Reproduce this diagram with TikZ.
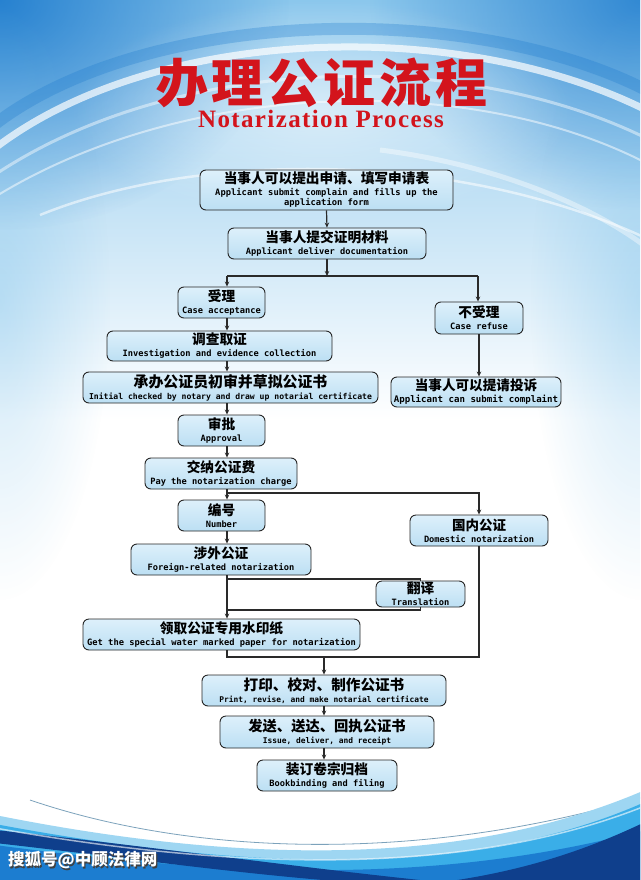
\documentclass[tikz,border=0pt]{standalone}
\usepackage{fontspec}
\usetikzlibrary{arrows.meta,calc,fadings}
\tikzfading[name=softfade, inner color=transparent!0, outer color=transparent!100]
\newfontfamily\cjk{Noto Sans CJK SC}
\newfontfamily\monof{DejaVu Sans Mono}
\newfontfamily\serift{Liberation Serif}
\definecolor{bxtop}{HTML}{DDF0FB}
\definecolor{bxbot}{HTML}{BCDFF3}
\definecolor{lnc}{HTML}{2A2A2A}
\definecolor{ttred}{HTML}{D3141C}
\definecolor{bgTop}{HTML}{6AB7E7}
\definecolor{bgMid}{HTML}{E2F1FA}
\definecolor{bgC}{HTML}{6FBBE8}
\definecolor{bgD}{HTML}{3A9BDC}
\definecolor{bgE}{HTML}{1C7ACD}
\definecolor{wvcyan}{HTML}{3AAEE8}
\definecolor{wvblue}{HTML}{1C7DD0}
\definecolor{wvnavy}{HTML}{0F3F8C}
\definecolor{wvlight}{HTML}{9ED6F2}
\newcommand{\boxtxt}[4]{{\cjk\bfseries\fontsize{#1}{14}\selectfont #3}\\{\monof\bfseries\fontsize{#2}{10}\selectfont #4}}
\newcommand{\wmtext}{搜狐号@中顾法律网}
\tikzset{
  pbox/.style={draw=black!85, line width=0.9pt, rounded corners=6pt, top color=bxtop, bottom color=bxbot, align=center, inner sep=1pt, font=\fontsize{9}{12}\selectfont, minimum height=31pt},
  arr/.style={draw=lnc, line width=1.2pt, -{Stealth[length=5pt,width=4.5pt]}},
  ln/.style={draw=lnc, line width=1.2pt},
}
\begin{document}
\begin{tikzpicture}[x=1pt,y=-1pt]
\useasboundingbox (0,0) rectangle (640,880);
% ---------- background ----------
\begin{scope}
\clip (0,0) rectangle (640,880);
\fill[white] (0,0) rectangle (640,880);
\shade[top color=bgTop, middle color=bgMid, bottom color=white] (0,-120) rectangle (640,420);
\fill[bgE, path fading=softfade, opacity=0.9] (0,0) ellipse (290 and 230);
\fill[bgE, path fading=softfade, opacity=0.8] (640,0) ellipse (270 and 210);
\fill[bgC, path fading=softfade, opacity=0.35] (0,300) ellipse (110 and 300);
\fill[bgC, path fading=softfade, opacity=0.35] (640,300) ellipse (110 and 300);
\fill[white, path fading=softfade, opacity=0.55] (322,110) ellipse (250 and 110);
\draw[bgE, opacity=0.30, line width=12pt] (-10,128) .. controls (140,8) and (470,-2) .. (650,92);
\draw[white, opacity=0.7, line width=7pt] (-10,152) .. controls (150,25) and (460,15) .. (650,112);
\draw[white, opacity=0.45, line width=3pt] (-10,178) .. controls (170,55) and (460,45) .. (650,140);
\draw[white, opacity=0.5, line width=2pt] (-10,200) .. controls (180,80) and (470,70) .. (650,165);
\draw[white, opacity=0.55, line width=2.5pt] (40,215) .. controls (200,150) and (460,150) .. (650,240);
\draw[white, opacity=0.4, line width=5pt] (380,150) .. controls (500,165) and (600,210) .. (650,250);
% bottom waves
\draw[black!35!bgD, opacity=0.6, line width=0.8pt] (30,800) .. controls (200,858) and (430,862) .. (650,795);
\fill[wvlight] (-5,815) .. controls (230,862) and (460,870) .. (645,790) -- (645,885) -- (-5,885) -- cycle;
\fill[wvcyan] (-5,824) .. controls (240,870) and (470,880) .. (645,802) -- (645,885) -- (-5,885) -- cycle;
\fill[wvblue] (-5,845) .. controls (200,872) and (420,890) .. (645,830) -- (645,885) -- (-5,885) -- cycle;
\fill[wvnavy] (-5,830) .. controls (150,846) and (330,872) .. (470,885) -- (400,885) .. controls (280,880) and (130,858) .. (-5,843) -- cycle;
\fill[wvnavy] (645,822) .. controls (570,858) and (500,876) .. (420,885) -- (645,885) -- cycle;
\draw[white, opacity=0.6, line width=1.5pt] (-5,828) .. controls (220,868) and (460,880) .. (645,806);
\end{scope}
% ---------- title ----------
\node[text=ttred] (title) at (322,83) {\cjk\bfseries\fontsize{52}{52}\selectfont 办\hspace{4pt}理\hspace{4pt}公\hspace{4pt}证\hspace{4pt}流\hspace{4pt}程};
\node[text=ttred] (subtitle) at (321,119) {\serift\bfseries\fontsize{25}{25}\selectfont\addfontfeature{LetterSpace=5.5}Notarization Process};
% ---------- boxes ----------
\node[pbox, minimum width=253pt, minimum height=40pt] (n1) at (326.5,190) {{\cjk\bfseries\fontsize{13.7}{14}\selectfont 当事人可以提出申请、填写申请表}\\{\monof\bfseries\fontsize{8.8}{10}\selectfont Applicant submit complain and fills up the}\\[-2pt]{\monof\bfseries\fontsize{8.8}{10}\selectfont application form}};
\node[pbox, minimum width=198pt] (n2) at (327,243.5) {\boxtxt{13.7}{8.7}{当事人提交证明材料}{Applicant deliver documentation}};
\node[pbox, minimum width=87pt] (acc) at (221.5,302.5) {\boxtxt{13.7}{8.7}{受理}{Case acceptance}};
\node[pbox, minimum width=88pt, minimum height=32pt] (ref) at (479,318) {\boxtxt{13.7}{8.7}{不受理}{Case refuse}};
\node[pbox, minimum width=225pt, minimum height=30pt] (inv) at (219.5,346) {\boxtxt{13.7}{8.7}{调查取证}{Investigation and evidence collection}};
\node[pbox, minimum width=295pt] (init) at (230.5,387.5) {\boxtxt{14.9}{8.1}{承办公证员初审并草拟公证书}{Initial checked by notary and draw up notarial certificate}};
\node[pbox, minimum width=170pt, minimum height=30pt] (comp) at (476,392) {\boxtxt{13.6}{9.1}{当事人可以提请投诉}{Applicant can submit complaint}};
\node[pbox, minimum width=87pt] (appr) at (221.5,430.5) {\boxtxt{13.7}{8.7}{审批}{Approval}};
\node[pbox, minimum width=152pt] (pay) at (221,473.5) {\boxtxt{13.7}{8.7}{交纳公证费}{Pay the notarization charge}};
\node[pbox, minimum width=87pt] (num) at (221.5,515.5) {\boxtxt{13.7}{8.7}{编号}{Number}};
\node[pbox, minimum width=138pt] (dom) at (479,530.5) {\boxtxt{13.5}{8.7}{国内公证}{Domestic notarization}};
\node[pbox, minimum width=180pt] (frn) at (221,559.5) {\boxtxt{13.7}{8.7}{涉外公证}{Foreign-related notarization}};
\node[pbox, minimum width=89pt, minimum height=26pt] (tr) at (420.5,594) {\boxtxt{13.7}{8.7}{翻译}{Translation}};
\node[pbox, minimum width=277pt] (get) at (221.5,634.5) {\boxtxt{13.7}{8.75}{领取公证专用水印纸}{Get the special water marked paper for notarization}};
\node[pbox, minimum width=244pt] (print) at (324,690.5) {\boxtxt{14.6}{7.9}{打印、校对、制作公证书}{Print, revise, and make notarial certificate}};
\node[pbox, minimum width=214pt, minimum height=32pt] (send) at (327,732) {\boxtxt{14.3}{7.9}{发送、送达、回执公证书}{Issue, deliver, and receipt}};
\node[pbox, minimum width=140pt] (bind) at (327,775.5) {\boxtxt{13.7}{8.7}{装订卷宗归档}{Bookbinding and filing}};
% ---------- connectors ----------
\coordinate (L) at (227,0);
\coordinate (M) at (324,0);
\coordinate (s1) at (327,276);
\coordinate (s1l) at (227,276);
\coordinate (s1r) at (478,276);
\coordinate (s2) at (227,493);
\coordinate (t1) at (227,579);
\coordinate (t2) at (227,610);
\coordinate (b1) at (227,657);
\draw[arr] (n1.south) -- (n2.north);
\draw[arr] (n2.south) -- (s1);
\draw[ln] (s1l) -- (s1r);
\draw[arr] (s1l) -- (acc.north -| L);
\draw[arr] (s1r) -- (s1r |- ref.north);
\draw[arr] (ref.south) -- (ref.south |- comp.north);
\draw[arr] (acc.south -| L) -- (inv.north -| L);
\draw[arr] (inv.south -| L) -- (init.north -| L);
\draw[arr] (init.south -| L) -- (appr.north -| L);
\draw[arr] (appr.south -| L) -- (pay.north -| L);
\draw[arr] (pay.south -| L) -- (num.north -| L);
\draw[arr] (s2) -| (dom.north);
\draw[arr] (num.south -| L) -- (frn.north -| L);
\draw[arr] (frn.south -| L) -- (get.north -| L);
\draw[ln] (t1) -| (tr.north);
\draw[ln] (tr.south) |- (t2);
\draw[ln] (get.south -| L) -- (b1) -- (b1 -| dom.south) -- (dom.south);
\draw[arr] (b1 -| M) -- (print.north -| M);
\draw[arr] (print.south -| M) -- (send.north -| M);
\draw[arr] (send.south -| M) -- (bind.north -| M);
% ---------- watermark ----------
\node[text=white, anchor=west, inner sep=0pt] (wm) at (8,861) {\cjk\bfseries\fontsize{16.5}{17}\selectfont\makebox[0pt][l]{\hspace{1.2pt}\raisebox{-1.2pt}{\color{black!75}\wmtext}}\wmtext};
\end{tikzpicture}
\end{document}
